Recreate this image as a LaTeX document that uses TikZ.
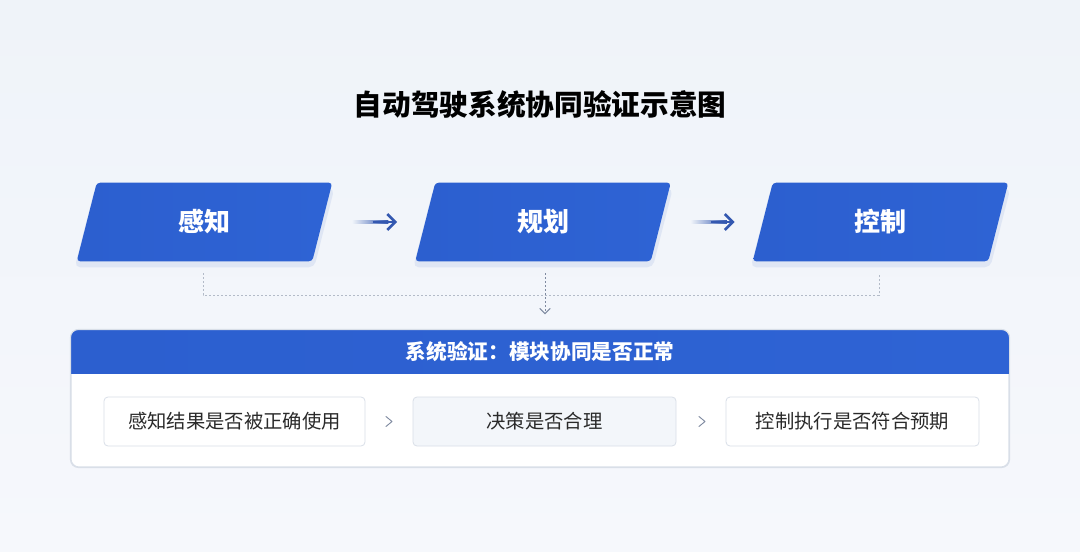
\documentclass[tikz,border=0pt]{standalone}
\usepackage{fontspec}
\setmainfont{Noto Sans CJK SC}
\usetikzlibrary{arrows.meta,calc,backgrounds}
\definecolor{bgtop}{HTML}{EFF3F9}
\definecolor{bgbot}{HTML}{F6F8FC}
\definecolor{blueA}{HTML}{2C5FCF}
\definecolor{blueB}{HTML}{3670DE}
\definecolor{blueC}{HTML}{2E63D4}
\definecolor{txt}{HTML}{2A2A2A}
\definecolor{bord}{HTML}{D9DFE8}
\definecolor{dotc}{HTML}{B3BBC8}
\definecolor{arrc}{HTML}{3458B0}
\definecolor{chevc}{HTML}{7F8AA0}
\definecolor{midfill}{HTML}{F3F6FA}
\definecolor{shadowc}{HTML}{C9D5EE}
\tikzset{
  flowbox/.style={rectangle, minimum width=176.25pt, minimum height=58.5pt, inner sep=0pt,
    text=white, font=\bfseries\fontsize{19.5}{22}\selectfont},
  paraface/.style={rounded corners=2.5pt, left color=blueA, middle color=blueB, right color=blueC},
  parashadow/.style={rounded corners=4pt, fill=shadowc, opacity=0.45},
  arrowtip/.style={arrc, line width=2pt, shorten <=38pt, shorten >=21pt,
    -{Straight Barb[length=6pt,width=12pt,line width=2pt]}},
  dotline/.style={dotc, line width=0.7pt, dash pattern=on 1.5pt off 1.5pt},
  panelbox/.style={rectangle, draw=bord, line width=0.8pt, fill=white, rounded corners=6pt,
    minimum width=703.5pt, minimum height=102.75pt, inner sep=0pt},
  hdrtext/.style={text=white, font=\bfseries\fontsize{15.5}{18}\selectfont},
  chkbox/.style={rectangle, draw=bord, line width=0.6pt, fill=white, rounded corners=3pt,
    minimum height=36.75pt, inner sep=0pt, text=txt, font=\fontsize{14.5}{17}\selectfont},
  chev/.style={chevc, line width=0.7pt, line cap=round, line join=round},
  titletext/.style={text=black, font=\bfseries\fontsize{21.5}{24}\selectfont}
}
\newcommand{\paraback}[1]{%
  \fill[parashadow] ($(#1.south west)+(-12,6)$) -- ($(#1.south east)+(-8,6)$)
     -- ($(#1.north east)+(12,6)$) -- ($(#1.north west)+(8,6)$) -- cycle;
  \shade[paraface] ($(#1.south west)+(-10,0)$) -- ($(#1.south east)+(-10,0)$)
     -- ($(#1.north east)+(10,0)$) -- ($(#1.north west)+(10,0)$) -- cycle;}
\begin{document}
\begin{tikzpicture}[x=0.75pt,y=-0.75pt]
\useasboundingbox (0,0) rectangle (1080,552);

\node[titletext] (title) at (540,105) {自动驾驶系统协同验证示意图};

\node[flowbox] (p1) at (204.5,222) {感知};
\node[flowbox] (p2) at (543,222) {规划};
\node[flowbox] (p3) at (880.5,222) {控制};

\begin{scope}[on background layer]
  \shade[top color=bgtop, bottom color=bgbot] (0,0) rectangle (1080,552);
  \paraback{p1}
  \paraback{p2}
  \paraback{p3}
\end{scope}

% flow arrows: faded shaft + solid head
\shade[left color=bgtop, right color=arrc] ($(p1.east)+(30,-1.4)$) rectangle ($(p1.east)+(66,1.4)$);
\draw[arrowtip] (p1.east) -- (p2.west);
\shade[left color=bgtop, right color=arrc] ($(p2.east)+(30,-1.4)$) rectangle ($(p2.east)+(66,1.4)$);
\draw[arrowtip] (p2.east) -- (p3.west);

\node[panelbox] (panel) at (540,398.5) {};
\begin{scope}
  \clip[rounded corners=6pt] (panel.south west) rectangle (panel.north east);
  \shade[left color=blueA, middle color=blueB, right color=blueC]
    (panel.north west) rectangle ($(panel.north east)+(0,44)$);
\end{scope}
\draw[bord, line width=0.8pt, rounded corners=6pt] (panel.south west) rectangle (panel.north east);
\node[hdrtext] (hdr) at ($(panel.north)+(0,22)$) {系统验证：模块协同是否正常};

\draw[dotline] ($(p1.south)+(-1.5,12)$) -- ++(0,22) -| ($(p3.south)+(-1.5,12)$);
\draw[dotline, -{Straight Barb[length=4pt,width=8pt,line width=0.8pt]}, chevc]
  ($(p2.south)+(2,12)$) -- ($(p2.south |- panel.north)+(2,-15)$);

\node[chkbox, minimum width=195.75pt] (c1) at (234.5,421.5) {感知结果是否被正确使用};
\node[chkbox, minimum width=197.25pt, fill=midfill] (c2) at (544.5,421.5) {决策是否合理};
\node[chkbox, minimum width=189.75pt] (c3) at (852.5,421.5) {控制执行是否符合预期};

\path (c1.east) -- (c2.west) coordinate[midway] (g1);
\path (c2.east) -- (c3.west) coordinate[midway] (g2);
\draw[chev] ($(g1)+(-3,-5)$) -- ($(g1)+(3,0)$) -- ($(g1)+(-3,5)$);
\draw[chev] ($(g2)+(-2,-5)$) -- ($(g2)+(4,0)$) -- ($(g2)+(-2,5)$);
\end{tikzpicture}
\end{document}
